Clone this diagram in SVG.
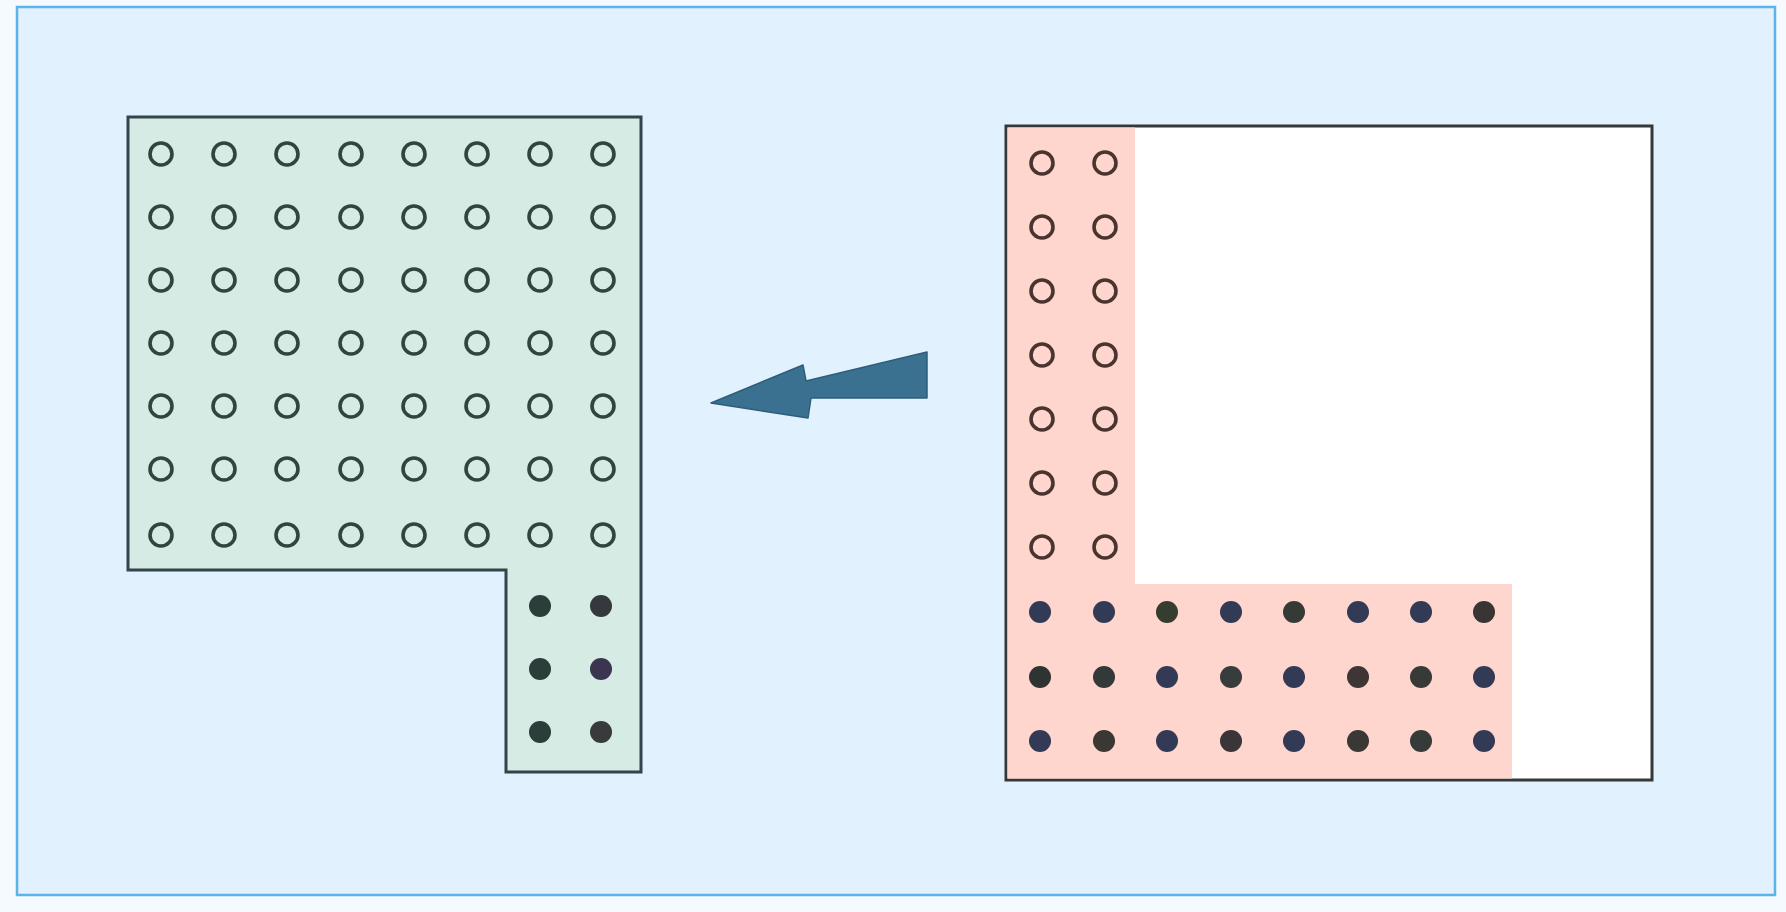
<svg xmlns="http://www.w3.org/2000/svg" width="1786" height="912" viewBox="0 0 1786 912">
<style>
.og{fill:none;stroke:#2f4540;stroke-width:3.6}
.fg{fill:#2c3e3a}
.op{fill:none;stroke:#4a3430;stroke-width:3.6}
.fp{fill:#333a55}
</style>
<rect x="0" y="0" width="1786" height="912" fill="#f4fafe"/>
<rect x="17" y="7" width="1758" height="888" fill="#e1f1fd" stroke="#5cb3ea" stroke-width="2.5"/>
<g id="target">
<polygon points="128,117 641,117 641,772 506,772 506,570 128,570" fill="#d5ebe3" stroke="#34444c" stroke-width="3"/>
<g id="target-open">
<circle class="og" cx="161" cy="154" r="11"/><circle class="og" cx="224" cy="154" r="11"/><circle class="og" cx="287" cy="154" r="11"/><circle class="og" cx="351" cy="154" r="11"/><circle class="og" cx="414" cy="154" r="11"/><circle class="og" cx="477" cy="154" r="11"/><circle class="og" cx="540" cy="154" r="11"/><circle class="og" cx="603" cy="154" r="11"/>
<circle class="og" cx="161" cy="217" r="11"/><circle class="og" cx="224" cy="217" r="11"/><circle class="og" cx="287" cy="217" r="11"/><circle class="og" cx="351" cy="217" r="11"/><circle class="og" cx="414" cy="217" r="11"/><circle class="og" cx="477" cy="217" r="11"/><circle class="og" cx="540" cy="217" r="11"/><circle class="og" cx="603" cy="217" r="11"/>
<circle class="og" cx="161" cy="280" r="11"/><circle class="og" cx="224" cy="280" r="11"/><circle class="og" cx="287" cy="280" r="11"/><circle class="og" cx="351" cy="280" r="11"/><circle class="og" cx="414" cy="280" r="11"/><circle class="og" cx="477" cy="280" r="11"/><circle class="og" cx="540" cy="280" r="11"/><circle class="og" cx="603" cy="280" r="11"/>
<circle class="og" cx="161" cy="343" r="11"/><circle class="og" cx="224" cy="343" r="11"/><circle class="og" cx="287" cy="343" r="11"/><circle class="og" cx="351" cy="343" r="11"/><circle class="og" cx="414" cy="343" r="11"/><circle class="og" cx="477" cy="343" r="11"/><circle class="og" cx="540" cy="343" r="11"/><circle class="og" cx="603" cy="343" r="11"/>
<circle class="og" cx="161" cy="406" r="11"/><circle class="og" cx="224" cy="406" r="11"/><circle class="og" cx="287" cy="406" r="11"/><circle class="og" cx="351" cy="406" r="11"/><circle class="og" cx="414" cy="406" r="11"/><circle class="og" cx="477" cy="406" r="11"/><circle class="og" cx="540" cy="406" r="11"/><circle class="og" cx="603" cy="406" r="11"/>
<circle class="og" cx="161" cy="469" r="11"/><circle class="og" cx="224" cy="469" r="11"/><circle class="og" cx="287" cy="469" r="11"/><circle class="og" cx="351" cy="469" r="11"/><circle class="og" cx="414" cy="469" r="11"/><circle class="og" cx="477" cy="469" r="11"/><circle class="og" cx="540" cy="469" r="11"/><circle class="og" cx="603" cy="469" r="11"/>
<circle class="og" cx="161" cy="535" r="11"/><circle class="og" cx="224" cy="535" r="11"/><circle class="og" cx="287" cy="535" r="11"/><circle class="og" cx="351" cy="535" r="11"/><circle class="og" cx="414" cy="535" r="11"/><circle class="og" cx="477" cy="535" r="11"/><circle class="og" cx="540" cy="535" r="11"/><circle class="og" cx="603" cy="535" r="11"/>
</g>
<g id="target-filled">
<circle class="fg" cx="540" cy="606" r="11"/><circle class="fg" cx="601" cy="606" r="11" style="fill:#35383d"/>
<circle class="fg" cx="540" cy="669" r="11"/><circle class="fg" cx="601" cy="669" r="11" style="fill:#3b3550"/>
<circle class="fg" cx="540" cy="732" r="11"/><circle class="fg" cx="601" cy="732" r="11" style="fill:#383a3c"/>
</g>
</g>
<g id="connectors">
<polygon points="711,403 803,365 806,381 927,352 927,398 811,398 808,418" fill="#3a7190" stroke="#2e5e7a" stroke-width="1.5" stroke-linejoin="round"/>
</g>
<g id="source">
<rect x="1006" y="126" width="646" height="654" fill="#ffffff" stroke="#363838" stroke-width="3"/>
<path d="M1007.5,127.5 H1135 V584 H1512 V778.5 H1007.5 Z" fill="#fed6cd"/>
<g id="source-open">
<circle class="op" cx="1042" cy="163" r="11"/><circle class="op" cx="1105" cy="163" r="11"/>
<circle class="op" cx="1042" cy="227" r="11"/><circle class="op" cx="1105" cy="227" r="11"/>
<circle class="op" cx="1042" cy="291" r="11"/><circle class="op" cx="1105" cy="291" r="11"/>
<circle class="op" cx="1042" cy="355" r="11"/><circle class="op" cx="1105" cy="355" r="11"/>
<circle class="op" cx="1042" cy="419" r="11"/><circle class="op" cx="1105" cy="419" r="11"/>
<circle class="op" cx="1042" cy="483" r="11"/><circle class="op" cx="1105" cy="483" r="11"/>
<circle class="op" cx="1042" cy="547" r="11"/><circle class="op" cx="1105" cy="547" r="11"/>
</g>
<g id="source-filled">
<circle class="fp" cx="1040" cy="612" r="11"/><circle class="fp" cx="1104" cy="612" r="11"/><circle class="fp" cx="1167" cy="612" r="11" style="fill:#343d30"/><circle class="fp" cx="1231" cy="612" r="11"/><circle class="fp" cx="1294" cy="612" r="11" style="fill:#363a36"/><circle class="fp" cx="1358" cy="612" r="11"/><circle class="fp" cx="1421" cy="612" r="11"/><circle class="fp" cx="1484" cy="612" r="11" style="fill:#3a3535"/>
<circle class="fp" cx="1040" cy="677" r="11" style="fill:#2f3433"/><circle class="fp" cx="1104" cy="677" r="11" style="fill:#333838"/><circle class="fp" cx="1167" cy="677" r="11"/><circle class="fp" cx="1231" cy="677" r="11" style="fill:#383c3c"/><circle class="fp" cx="1294" cy="677" r="11"/><circle class="fp" cx="1358" cy="677" r="11" style="fill:#3e3535"/><circle class="fp" cx="1421" cy="677" r="11" style="fill:#383a38"/><circle class="fp" cx="1484" cy="677" r="11"/>
<circle class="fp" cx="1040" cy="741" r="11"/><circle class="fp" cx="1104" cy="741" r="11" style="fill:#3a3832"/><circle class="fp" cx="1167" cy="741" r="11"/><circle class="fp" cx="1231" cy="741" r="11" style="fill:#3a3538"/><circle class="fp" cx="1294" cy="741" r="11"/><circle class="fp" cx="1358" cy="741" r="11" style="fill:#3a3835"/><circle class="fp" cx="1421" cy="741" r="11" style="fill:#363a38"/><circle class="fp" cx="1484" cy="741" r="11"/>
</g>
</g>
</svg>
